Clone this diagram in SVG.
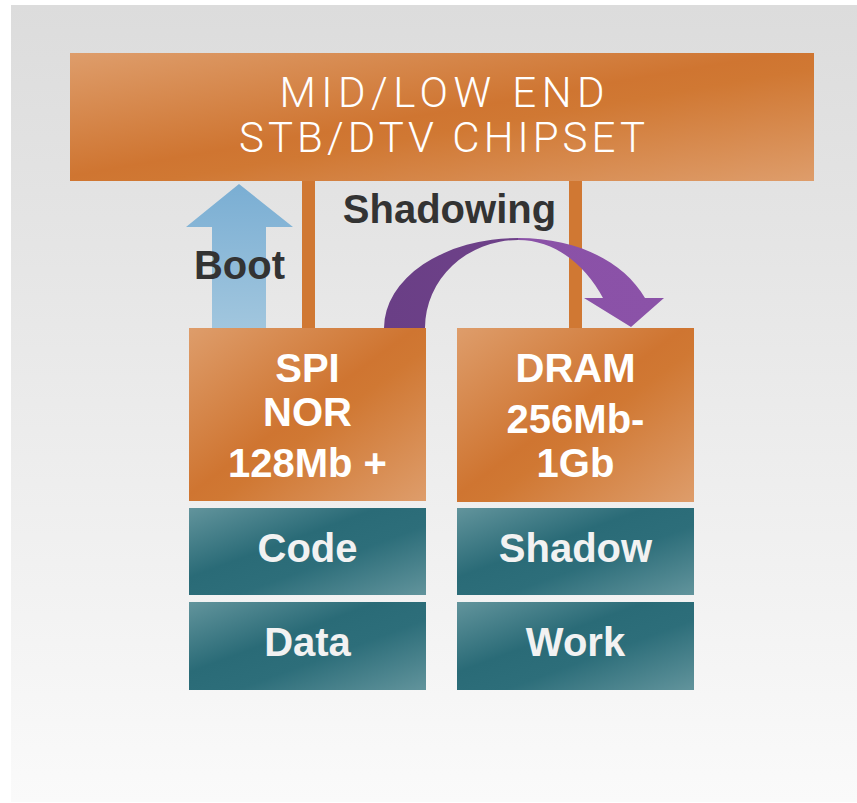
<svg xmlns="http://www.w3.org/2000/svg" width="857" height="803" viewBox="0 0 857 803">
  <defs>
    <linearGradient id="bg" x1="0" y1="0" x2="0" y2="1">
      <stop offset="0" stop-color="#dcdcdc"/>
      <stop offset="1" stop-color="#fafafa"/>
    </linearGradient>
    <linearGradient id="orange" x1="0" y1="0" x2="1" y2="1">
      <stop offset="0" stop-color="#de9d6b"/>
      <stop offset="0.48" stop-color="#cf7531"/>
      <stop offset="0.56" stop-color="#d07833"/>
      <stop offset="1" stop-color="#de9d6b"/>
    </linearGradient>
    <linearGradient id="teal" x1="0" y1="0" x2="1" y2="1">
      <stop offset="0" stop-color="#62949c"/>
      <stop offset="0.4" stop-color="#2a6b77"/>
      <stop offset="0.6" stop-color="#2d6e7a"/>
      <stop offset="1" stop-color="#62949c"/>
    </linearGradient>
    <linearGradient id="blue" x1="0" y1="0" x2="0" y2="1">
      <stop offset="0" stop-color="#7aaed3"/>
      <stop offset="1" stop-color="#a1c6de"/>
    </linearGradient>
    <linearGradient id="purple" gradientUnits="userSpaceOnUse" x1="384" y1="0" x2="664" y2="0">
      <stop offset="0" stop-color="#6a3f86"/>
      <stop offset="0.478" stop-color="#6e4189"/>
      <stop offset="0.478" stop-color="#8a51a7"/>
      <stop offset="1" stop-color="#8b52a8"/>
    </linearGradient>
    <style>
      .box-o { fill: url(#orange); }
      .box-t { fill: url(#teal); }
      .bar { fill: #d07833; }
      .big { font-family: "Liberation Sans", Arial, sans-serif; font-weight: bold; font-size: 40px; text-anchor: middle; }
      .w { fill: #ffffff; }
      .lt { fill: #f2f2f2; }
      .dark { fill: #333333; }
      .chip { font-family: Roboto, "Liberation Sans", sans-serif; font-weight: 300; font-size: 42px; fill: #ffffff; text-anchor: middle; }
    </style>
  </defs>

  <rect x="11" y="5" width="846" height="797" fill="url(#bg)"/>

  <g id="connectors">
    <rect class="bar" x="302" y="180" width="13" height="149"/>
    <rect class="bar" x="569" y="180" width="13" height="149"/>
    <path id="boot-arrow" d="M239,184 L293,227 L266,227 L266,328 L212,328 L212,227 L186,227 Z" fill="url(#blue)"/>
    <path id="shadow-arrow" d="M384,328 A134,90 0 0 1 518,238 C578,238 624,262 645,298 L664,298 L631,327 L584,298 L603,298 C586,266 556,240 518,240 A93,88 0 0 0 425,328 Z" fill="url(#purple)"/>
    <text class="big dark" x="239.5" y="279" font-size="39">Boot</text>
    <text class="big dark" x="449.5" y="223">Shadowing</text>
  </g>

  <g id="chipset">
    <rect class="box-o" x="70" y="53" width="744" height="128"/>
    <text class="chip" x="442" y="107" textLength="325" lengthAdjust="spacing">MID/LOW END</text>
    <text class="chip" x="442" y="152" textLength="406" lengthAdjust="spacing">STB/DTV CHIPSET</text>
  </g>

  <g id="spi-nor">
    <rect class="box-o" x="189" y="328" width="237" height="173"/>
    <text class="big w" x="307.5" y="382">SPI</text>
    <text class="big w" x="307.5" y="426">NOR</text>
    <text class="big w" x="307.5" y="477">128Mb +</text>
  </g>

  <g id="dram">
    <rect class="box-o" x="457" y="328" width="237" height="174"/>
    <text class="big w" x="575.5" y="382">DRAM</text>
    <text class="big w" x="575.5" y="433">256Mb-</text>
    <text class="big w" x="575.5" y="477">1Gb</text>
  </g>

  <g id="code">
    <rect class="box-t" x="189" y="508" width="237" height="87"/>
    <text class="big lt" x="307.5" y="562">Code</text>
  </g>

  <g id="data">
    <rect class="box-t" x="189" y="602" width="237" height="88"/>
    <text class="big lt" x="307.5" y="656">Data</text>
  </g>

  <g id="shadow">
    <rect class="box-t" x="457" y="508" width="237" height="87"/>
    <text class="big lt" x="575.5" y="562">Shadow</text>
  </g>

  <g id="work">
    <rect class="box-t" x="457" y="602" width="237" height="88"/>
    <text class="big lt" x="575.5" y="656">Work</text>
  </g>
</svg>
